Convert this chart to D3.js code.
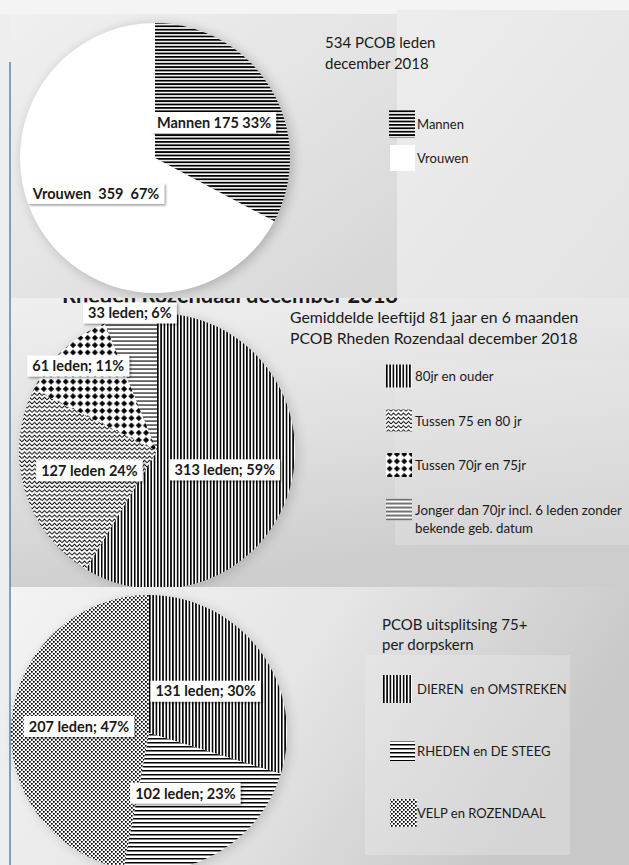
<!DOCTYPE html>
<html>
<head>
<meta charset="utf-8">
<script src="https://cdn.jsdelivr.net/npm/d3@7"></script>
<style>
  body { margin: 0; background: #eeeeee; }
  text { font-family: Lato, "Open Sans", sans-serif; fill: #1a1a1a; }
</style>
</head>
<body>
<div class="container"></div>
<script>
const WIDTH = 629,
    HEIGHT = 865;

// chart 1: geslacht
const genderCategories = ['Mannen', 'Vrouwen'];
const genderValues = [175, 359];
const genderLabels = ['Mannen 175 33%', 'Vrouwen  359  67%'];
const genderTitle = ['534 PCOB leden', 'december 2018'];

// chart 2: leeftijd
const ageCategories = ['80jr en ouder', 'Tussen 75 en 80 jr', 'Tussen 70jr en 75jr',
    ['Jonger dan 70jr incl. 6 leden zonder', 'bekende geb. datum']];
const ageValues = [313, 127, 61, 33];
const ageLabels = ['313 leden; 59%', '127 leden 24%', '61 leden; 11%', '33 leden; 6%'];
const ageTitle = ['Gemiddelde leeftijd 81 jaar en 6 maanden', 'PCOB Rheden Rozendaal december 2018'];

// chart 3: dorpskern
const areaCategories = ['DIEREN  en OMSTREKEN', 'RHEDEN en DE STEEG', 'VELP en ROZENDAAL'];
const areaValues = [131, 102, 207];
const areaLabels = ['131 leden; 30%', '102 leden; 23%', '207 leden; 47%'];
const areaTitle = ['PCOB uitsplitsing 75+', 'per dorpskern'];

var svg = d3.select('.container').append('svg')
    .attr('width', WIDTH)
    .attr('height', HEIGHT)
    .style('display', 'block');

var defs = svg.append('defs');

// --- patterns ---
var addPattern = (id, w, h, draw) => {
    var p = defs.append('pattern')
        .attr('id', id)
        .attr('patternUnits', 'userSpaceOnUse')
        .attr('width', w)
        .attr('height', h);
    p.append('rect').attr('width', w).attr('height', h).attr('fill', '#fff');
    draw(p);
};

addPattern('hlines', 4, 3.4, p => p.append('rect').attr('width', 4).attr('height', 1.8).attr('fill', '#000'));
addPattern('vlines', 3.3, 4, p => p.append('rect').attr('width', 1.6).attr('height', 4).attr('fill', '#000'));
addPattern('hthin', 4, 4, p => p.append('rect').attr('y', 1.5).attr('width', 4).attr('height', 1.1).attr('fill', '#000'));
addPattern('hmid', 4, 4, p => p.append('rect').attr('y', 1).attr('width', 4).attr('height', 1.5).attr('fill', '#000'));
addPattern('zigzag', 5, 4.2, p => p.append('path')
    .attr('d', 'M0,3.4 L2.5,0.9 L5,3.4').attr('fill', 'none').attr('stroke', '#000').attr('stroke-width', 0.85));
addPattern('diamonds', 7.3, 7.3, p => p.append('path')
    .attr('d', 'M3.65,0.6 L6.7,3.65 L3.65,6.7 L0.6,3.65 Z').attr('fill', '#000'));
addPattern('dots', 4, 4, p => {
    p.append('rect').attr('x', 0).attr('y', 0).attr('width', 1.7).attr('height', 1.7).attr('fill', '#000');
    p.append('rect').attr('x', 2).attr('y', 2).attr('width', 1.7).attr('height', 1.7).attr('fill', '#000');
});
addPattern('white', 4, 4, p => {});

// --- filters ---
var labelShadow = defs.append('filter').attr('id', 'labelShadow')
    .attr('x', '-20%').attr('y', '-40%').attr('width', '140%').attr('height', '180%');
labelShadow.append('feDropShadow')
    .attr('dx', 1.5).attr('dy', 1.5).attr('stdDeviation', 1)
    .attr('flood-color', '#000').attr('flood-opacity', 0.4);

var pieShadow = defs.append('filter').attr('id', 'pieShadow')
    .attr('x', '-20%').attr('y', '-20%').attr('width', '140%').attr('height', '140%');
pieShadow.append('feGaussianBlur').attr('stdDeviation', 6);

// --- gradients ---
var addLinear = (id, x1, y1, x2, y2, stops) => {
    var g = defs.append('linearGradient').attr('id', id)
        .attr('x1', x1).attr('y1', y1).attr('x2', x2).attr('y2', y2);
    stops.forEach(([o, c]) => g.append('stop').attr('offset', o).attr('stop-color', c));
};
addLinear('bg1', 0, 0, 1, 1, [[0, '#f0f0f0'], [0.5, '#e4e4e4'], [1, '#d6d6d6']]);
addLinear('bg1r', 0, 0, 1, 1, [[0, '#ededed'], [1, '#e3e3e3']]);
addLinear('bg2', 0, 0, 0.3, 1, [[0, '#efefef'], [0.55, '#e0e0e0'], [1, '#cdcdcd']]);
addLinear('bg3', 0, 0, 1, 0.3, [[0, '#f3f3f3'], [0.5, '#e6e6e6'], [1, '#c8c8c8']]);

// --- backgrounds ---
svg.append('rect').attr('width', WIDTH).attr('height', HEIGHT).attr('fill', '#eeeeee');
svg.append('rect').attr('width', WIDTH).attr('height', 14).attr('fill', '#f4f4f4');
svg.append('rect').attr('x', 10).attr('y', 298).attr('width', 619).attr('height', 289).attr('fill', 'url(#bg2)');
svg.append('rect').attr('x', 395).attr('y', 360).attr('width', 234).attr('height', 185).attr('fill', '#e9e9e9').attr('opacity', 0.35);

// half hidden title of the second chart, covered by the first panel
svg.append('text')
    .attr('x', 62).attr('y', 303)
    .attr('textLength', 336)
    .attr('lengthAdjust', 'spacingAndGlyphs')
    .style('font-size', '22px').style('font-weight', 700)
    .text('Rheden Rozendaal december 2018');

svg.append('rect').attr('x', 10).attr('y', 14).attr('width', 387).attr('height', 284).attr('fill', 'url(#bg1)');
svg.append('rect').attr('x', 397).attr('y', 10).attr('width', 232).attr('height', 288).attr('fill', 'url(#bg1r)');
svg.append('rect').attr('x', 10).attr('y', 587).attr('width', 619).attr('height', 278).attr('fill', 'url(#bg3)');
svg.append('rect').attr('x', 365).attr('y', 655).attr('width', 205).attr('height', 200).attr('fill', '#ededed').attr('opacity', 0.35);

// blue margin line
svg.append('line')
    .attr('x1', 10).attr('x2', 10).attr('y1', 62).attr('y2', HEIGHT)
    .attr('stroke', '#4472c4').attr('stroke-width', 1.3);

// --- pie drawing ---
var drawPie = (cfg) => {
    var g = svg.append('g').attr('transform', `translate(${cfg.cx},${cfg.cy})`);
    if (cfg.clip) {
        defs.append('clipPath').attr('id', cfg.clip.id)
            .append('rect').attr('x', -cfg.cx).attr('y', cfg.clip.y0 - cfg.cy)
            .attr('width', WIDTH).attr('height', cfg.clip.y1 - cfg.clip.y0);
        g.attr('clip-path', `url(#${cfg.clip.id})`);
    }

    g.append('circle')
        .attr('cx', 3).attr('cy', 2).attr('r', cfg.r)
        .attr('fill', '#000').attr('opacity', cfg.shadow)
        .attr('filter', 'url(#pieShadow)');

    var arcs = d3.pie().sort(null)(cfg.values);
    var total = d3.sum(cfg.values);
    var arc = d3.arc().innerRadius(0).outerRadius(cfg.r);

    g.selectAll('path.slice')
        .data(arcs)
        .enter().append('path')
        .classed('slice', true)
        .attr('d', arc)
        .attr('fill', (d, i) => `url(#${cfg.patterns[i]})`);

    var labelRadius = (d) => {
        var f = d.value / total;
        return cfg.r * (f < 0.08 ? 1.02 : f < 0.15 ? 0.84 : 0.51);
    };

    var lg = g.selectAll('g.label')
        .data(arcs)
        .enter().append('g')
        .classed('label', true)
        .attr('transform', d => {
            var rr = labelRadius(d);
            var c = d3.arc().innerRadius(rr).outerRadius(rr).centroid(d);
            return `translate(${c[0]},${c[1]})`;
        });

    lg.append('rect').attr('fill', '#fff').attr('filter', 'url(#labelShadow)');
    lg.append('text')
        .attr('text-anchor', 'middle')
        .attr('dy', '0.36em')
        .style('font-size', '14.5px').style('font-weight', 700)
        .style('white-space', 'pre')
        .text((d, i) => cfg.labels[i]);

    lg.each(function () {
        var t = d3.select(this).select('text');
        var w = t.node().getComputedTextLength() + 10;
        d3.select(this).select('rect')
            .attr('x', -w / 2).attr('y', -10.5).attr('width', w).attr('height', 21);
    });
};

var drawTitle = (lines, x, y0, step, size) => {
    svg.append('g').selectAll('text')
        .data(lines)
        .enter().append('text')
        .attr('x', x)
        .attr('y', (d, i) => y0 + i * step)
        .style('font-size', size + 'px')
        .text(d => d);
};

var drawLegend = (cfg) => {
    var y = d3.scaleLinear().domain([0, 1]).range([cfg.y0, cfg.y0 + cfg.step]);
    var items = svg.append('g').selectAll('g')
        .data(cfg.categories)
        .enter().append('g')
        .attr('transform', (d, i) => `translate(${cfg.x},${y(i)})`);

    items.append('rect')
        .attr('x', (d, i) => cfg.boxes[i][0]).attr('y', (d, i) => -cfg.boxes[i][1] / 2)
        .attr('width', (d, i) => cfg.boxes[i][2]).attr('height', (d, i) => cfg.boxes[i][1])
        .attr('fill', (d, i) => `url(#${cfg.patterns[i]})`);

    items.append('text')
        .attr('x', cfg.textX)
        .attr('y', 5)
        .style('font-size', cfg.size + 'px')
        .style('white-space', 'pre')
        .selectAll('tspan')
        .data(d => Array.isArray(d) ? d : [d])
        .enter().append('tspan')
        .attr('x', cfg.textX)
        .attr('dy', (d, i) => i === 0 ? 0 : 18)
        .text(d => d);
};

// chart 1
drawPie({
    cx: 155, cy: 158, r: 135, shadow: 0.22,
    values: genderValues,
    labels: genderLabels,
    patterns: ['hlines', 'white']
});
drawTitle(genderTitle, 325, 48, 21, 15);
drawLegend({
    categories: genderCategories, x: 389, y0: 124, step: 34, textX: 28, size: 13,
    patterns: ['hlines', 'white'],
    boxes: [[0, 28, 26], [1, 26, 25]]
});

// chart 2
drawPie({
    cx: 157, cy: 451, r: 138, shadow: 0.15,
    values: ageValues,
    labels: ageLabels,
    patterns: ['vlines', 'zigzag', 'diamonds', 'hthin'],
    clip: { id: 'clip2', y0: 298, y1: 587 }
});
drawTitle(ageTitle, 290, 323, 21, 15.8);
drawLegend({
    categories: ageCategories, x: 386, y0: 376, step: 44.5, textX: 29, size: 13.3,
    patterns: ['vlines', 'zigzag', 'diamonds', 'hthin'],
    boxes: [[0, 23, 26], [0, 22, 26], [0, 24, 26], [0, 22, 26]]
});

// chart 3
drawPie({
    cx: 149, cy: 733, r: 138, shadow: 0.15,
    values: areaValues,
    labels: areaLabels,
    patterns: ['vlines', 'hmid', 'dots'],
    clip: { id: 'clip3', y0: 587, y1: HEIGHT }
});
drawTitle(areaTitle, 382, 630, 20, 15);
drawLegend({
    categories: areaCategories, x: 383, y0: 689, step: 62, textX: 34, size: 13,
    patterns: ['vlines', 'hmid', 'dots'],
    boxes: [[0, 28, 29], [7, 20, 25], [7, 28, 27]]
});
</script>
</body>
</html>
